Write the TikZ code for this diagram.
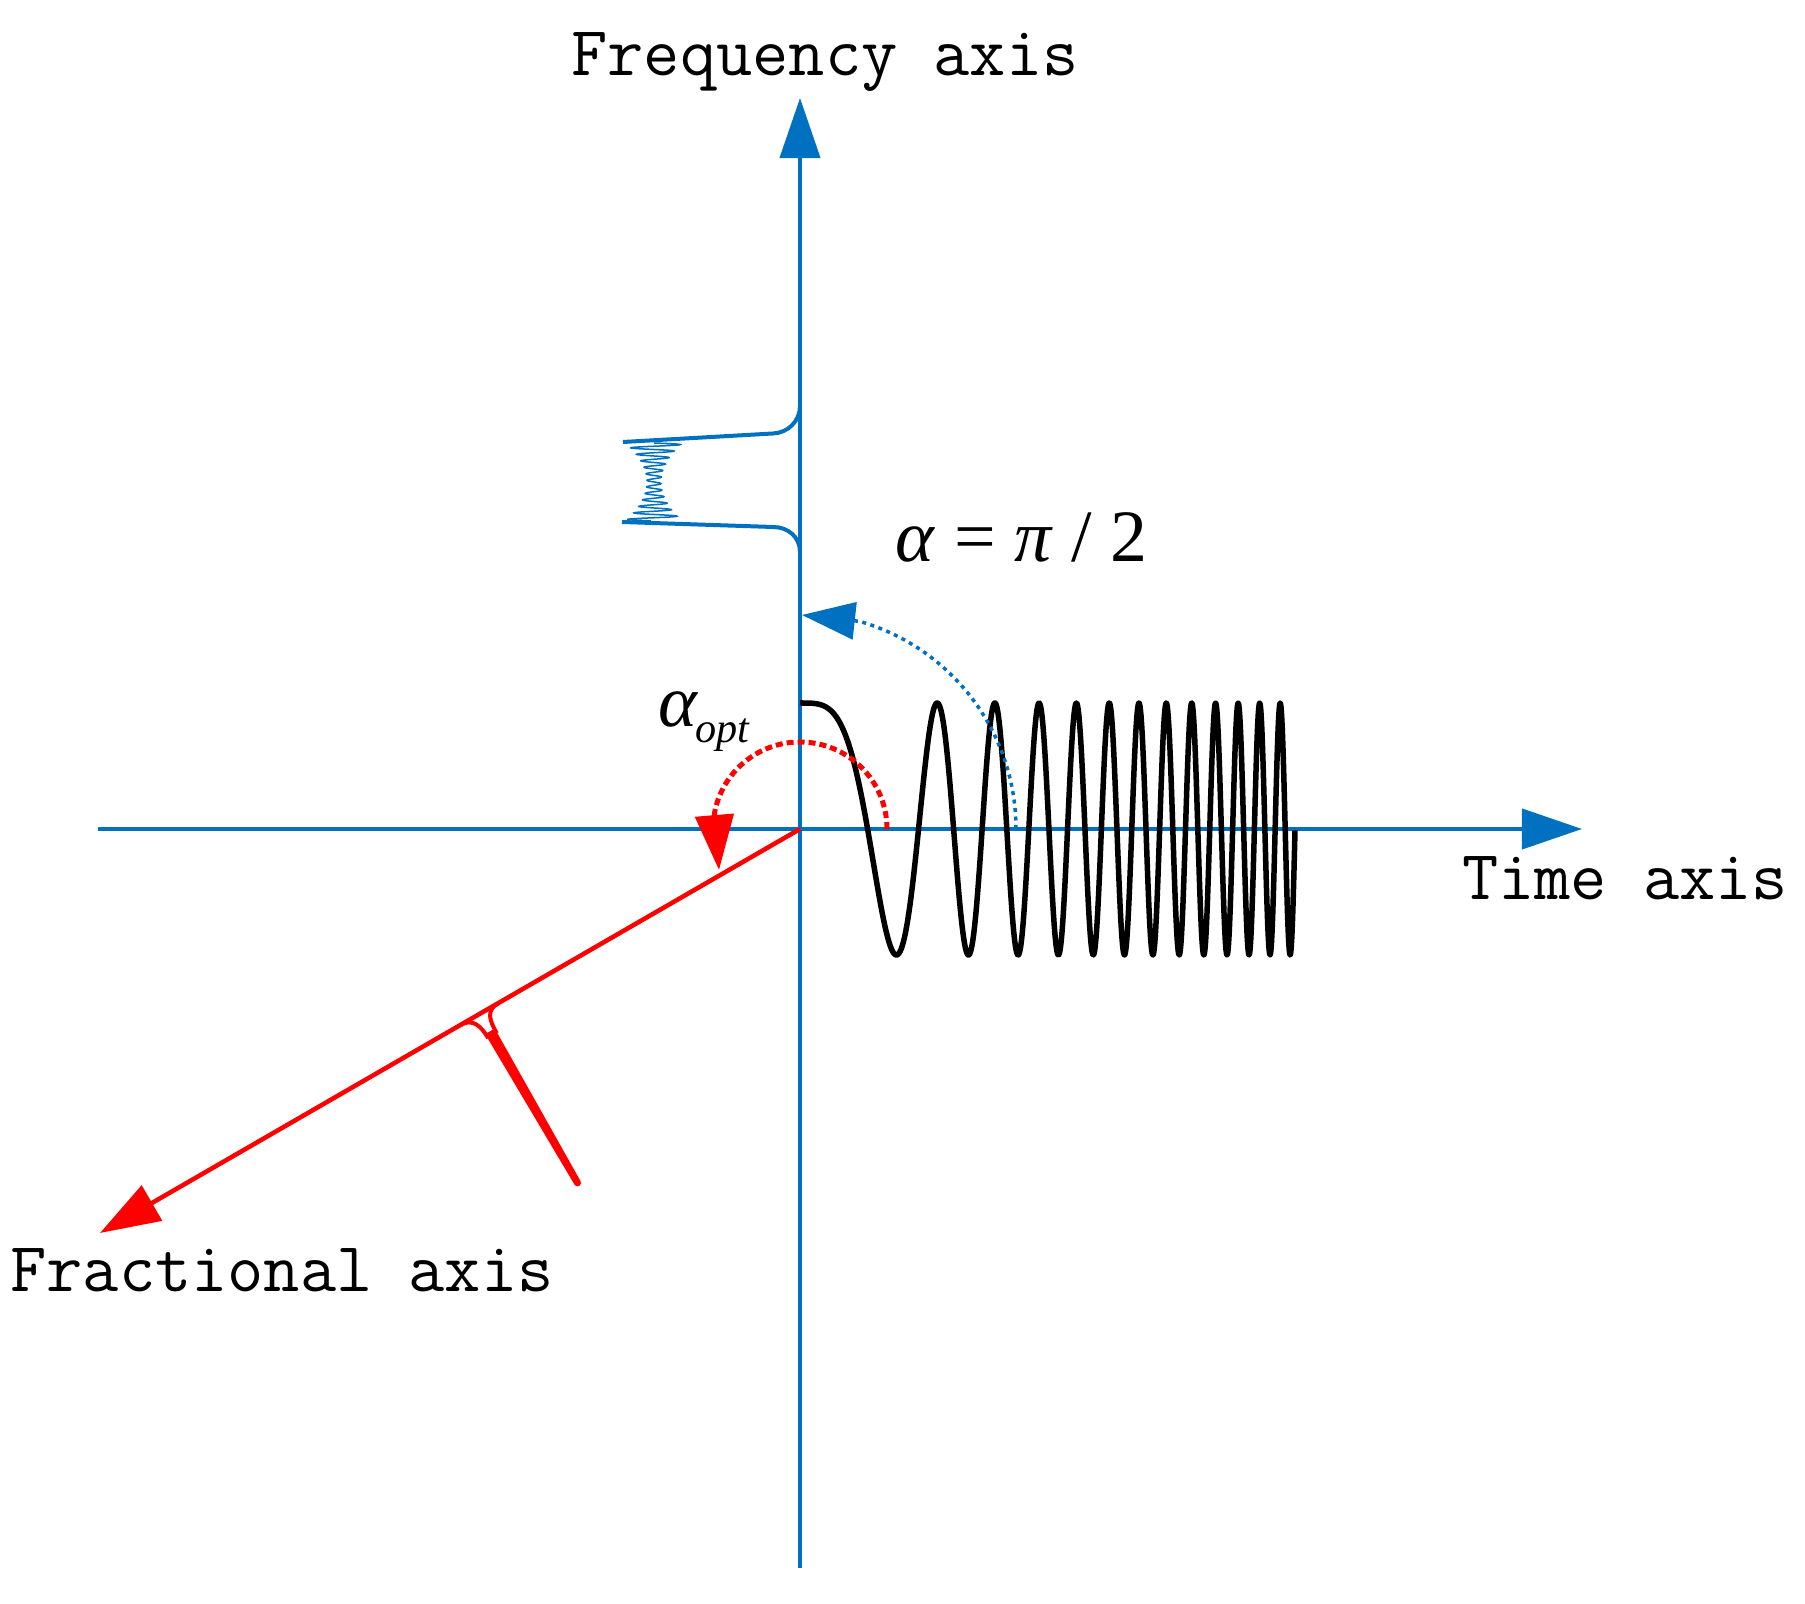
\documentclass[tikz,border=0pt]{standalone}
\usepackage{fontspec}
\setmainfont{Liberation Serif}
\usetikzlibrary{arrows.meta}
\definecolor{axblue}{RGB}{0,112,192}
\definecolor{fred}{RGB}{255,0,0}
\begin{document}
\begin{tikzpicture}[x=0.01cm, y=-0.01cm,
  axisline/.style={draw=axblue, line width=0.04cm, -{Triangle[length=0.6cm,width=0.4cm]}},
  fracline/.style={draw=fred, line width=0.045cm, -{Triangle[length=0.6cm,width=0.4cm]}},
  axlabel/.style={inner sep=0pt, font=\fontsize{20}{24}\selectfont\ttfamily},
  mathlabel/.style={inner sep=0pt, font=\fontsize{21}{25}\selectfont},
  chirp/.style={draw=black, line width=0.055cm, line join=round},
  bluedot/.style={draw=axblue, line width=0.035cm, dash pattern=on 0.04cm off 0.045cm, -{Triangle[length=0.53cm,width=0.37cm]}},
  reddash/.style={draw=fred, line width=0.05cm, dash pattern=on 0.07cm off 0.04cm, -{Triangle[length=0.55cm,width=0.38cm]}},
  spec/.style={draw=axblue, line width=0.04cm},
  redthin/.style={draw=fred, line width=0.04cm}
]
\useasboundingbox (0,0) rectangle (1805,1604);

% coordinates
\coordinate (O) at (800,829);
\coordinate (xs) at (98,829);
\coordinate (xe) at (1582,829);
\coordinate (ys) at (800,1568);
\coordinate (ye) at (800,98);
\coordinate (fe) at (100,1233);

% axes
\draw[axisline] (xs) -- (xe);
\draw[axisline] (ys) -- (ye);
\draw[fracline] (O) -- (fe);

% labels
\node[axlabel, anchor=base] (flabel) at (825,76) {Frequency axis};
\node[axlabel, anchor=base] (tlabel) at (1625,900) {Time axis};
\node[axlabel, anchor=base] (frlabel) at (282,1292) {Fractional axis};
\node[mathlabel, anchor=base west] (alab) at (895,562) {\textit{α} = \textit{π} / 2};
\node[mathlabel, anchor=base west] (aopt) at (658,727) {\textit{α}\kern-1pt\raisebox{-4.5pt}{\fontsize{12}{14}\selectfont\textit{opt}}};

% chirp signal
\draw[chirp] plot[domain=0:495, samples=1200] ({800+\x}, {829-126*cos(185.8*((\x+2)/100)^2)});

% rotation arrows
\draw[bluedot] (1016,829) arc[start angle=0, end angle=-74, radius=216] -- (802,615);
\draw[reddash] (887,829) arc[start angle=0, end angle=-170, radius=87] -- (719,870);

% spectrum on frequency axis
\draw[spec] (800,406) .. controls (800,421) and (788,433) .. (773,433.5) -- (623,442);
\draw[spec] (800,552) .. controls (800,537) and (788,527) .. (773,527) -- (622,522);
\draw[axblue, line width=0.015cm] plot[domain=0:1, samples=400] ({654+(7+21*(2*\x-1)^2)*sin(12*360*\x)}, {443+78*\x});

% spike on fractional axis
\fill[fred] (494.8,1028.6) -- (580.5,1181.1) -- (574.5,1184.6) -- (485.2,1034.1) -- cycle;
\fill[fred] (577.5,1182.9) circle[radius=3.5];
\draw[redthin] (460.5,1025) .. controls (472.6,1018) and (481.2,1026.1) .. (488.2,1038.2);
\draw[redthin] (497.8,1003.5) .. controls (485.7,1010.5) and (489.8,1021.1) .. (496.8,1033.2);
\end{tikzpicture}
\end{document}
